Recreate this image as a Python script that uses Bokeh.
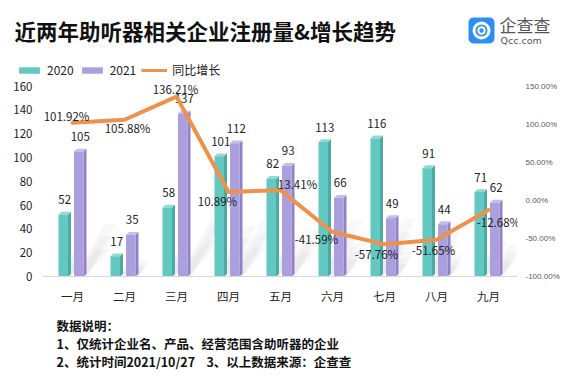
import numpy as np
from bokeh.plotting import figure
from bokeh.layouts import column
from bokeh.models import (Range1d, LinearAxis, FixedTicker, ColumnDataSource,
                          Legend, LegendItem, BoxAnnotation)
from bokeh.core.properties import value
from bokeh.embed import file_html
from bokeh.resources import INLINE

# ---------------- data ----------------
months = ["一月", "二月", "三月", "四月", "五月", "六月", "七月", "八月", "九月"]
count_2020 = [52, 17, 58, 101, 82, 113, 116, 91, 71]
count_2021 = [105, 35, 137, 112, 93, 66, 49, 44, 62]
growth_pct = [101.92, 105.88, 136.21, 10.89, 13.41, -41.59, -57.76, -51.65, -12.68]
left_ticks = [0, 20, 40, 60, 80, 100, 120, 140, 160]
right_ticks = [-100, -50, 0, 50, 100, 150]
right_tick_labels = ["-100.00%", "-50.00%", "0.00%", "50.00%", "100.00%", "150.00%"]
series_names = ["2020", "2021", "同比增长"]
title_text = "近两年助听器相关企业注册量&增长趋势"
notes = ["数据说明：",
         "1、仅统计企业名、产品、经营范围含助听器的企业",
         "2、统计时间2021/10/27\u00a0\u00a0\u00a0\u00a03、以上数据来源：企查查"]

# ---------------- styles ----------------
TEAL, TEAL_SIDE, TEAL_TOP = "#63c8c1", "#49aba4", "#8fdad4"
PURP, PURP_SIDE, PURP_TOP = "#ab9fdd", "#8f82c6", "#c6bdee"
ORANGE = "#f0914a"
CJK = "Noto Sans CJK SC"
W = 570
PX_X = 52.0          # pixels per category
PX_Y = 200.0 / 160   # pixels per count unit
PX_P = 200.0 / 250   # pixels per percent point
DEPTH = 3.0          # 3D depth in px
SHADOW_LAYERS = [(0.22, 0.8), (0.32, 0.65), (0.42, 0.55)]  # (height share, shear)
SHADOW_ALPHA = 0.028
pct_dx = [-6, 3, -1, -11, 17, -16, -8, -3, 10]
pct_dy = [-7, 8, -8, 9, -6, 7, 10, 10, 12]


def blank_fig(h, x0, x1, y_top, y_bot):
    f = figure(width=W, height=h, x_range=Range1d(x0, x1), y_range=Range1d(y_bot, y_top),
               output_backend="svg", toolbar_location=None,
               x_axis_type=None, y_axis_type=None, min_border=0)
    f.outline_line_color = None
    f.grid.visible = False
    return f


# ================= header (reference px 8..86) =================
hdr = blank_fig(78, 8, 578, 8, 86)
hdr.text(x=[22], y=[38], text=[title_text], text_font=value(CJK), text_font_size="21.5px",
         text_font_style="bold", text_color="#111111", text_align="left",
         text_baseline="middle")
hdr.add_layout(BoxAnnotation(left=476, right=502, top=25, bottom=51,
                             fill_color="#2d8ff2", fill_alpha=1, line_color=None,
                             border_radius=5, level="underlay"))
hdr.circle(x=[489], y=[38], radius=7.5, fill_color=None, line_color="white", line_width=3)
hdr.circle(x=[489], y=[38], radius=3.2, fill_color=None, line_color="white", line_width=2)
hdr.text(x=[507], y=[32], text=["企查查"], text_font=value(CJK), text_font_size="17px",
         text_color="#555555", text_align="left", text_baseline="middle")
hdr.text(x=[508], y=[48], text=["Qcc.com"], text_font=value("DejaVu Sans"),
         text_font_size="9.5px", text_color="#555555", text_align="left",
         text_baseline="middle")
# legend proxies drawn outside the visible range
lg20 = hdr.quad(left=[-100], right=[-90], top=[-100], bottom=[-90], fill_color=TEAL,
                line_color=None)
lg21 = hdr.quad(left=[-100], right=[-90], top=[-100], bottom=[-90], fill_color=PURP,
                line_color=None)
lgln = hdr.line(x=[-100, -90], y=[-100, -100], line_color=ORANGE, line_width=3)
legend = Legend(items=[LegendItem(label=series_names[0], renderers=[lg20]),
                       LegendItem(label=series_names[1], renderers=[lg21]),
                       LegendItem(label=series_names[2], renderers=[lgln])],
                location=(16, 0), orientation="horizontal",
                glyph_width=26, glyph_height=8, label_standoff=5, spacing=5,
                padding=0, margin=0, border_line_color=None, background_fill_alpha=0,
                label_text_font=CJK, label_text_font_size="12px",
                label_text_color="#222222", label_height=16)
hdr.add_layout(legend, "center")

# ================= main chart (reference px 86..314) =================
# frame: ref x 50..525, y 86..294
p = figure(width=W, height=228,
           x_range=Range1d((50 - 80) / PX_X, (525 - 80) / PX_X),
           y_range=Range1d(0, 208 / PX_Y),
           output_backend="svg", toolbar_location=None,
           min_border_left=42, min_border_right=53,
           min_border_top=0, min_border_bottom=20)
p.extra_y_ranges = {"pct": Range1d(-100, -100 + 208 / PX_P)}
p.outline_line_color = None
p.xgrid.visible = False
p.ygrid.visible = False

xs = np.arange(len(months), dtype=float)


def bar3d(vals, l_px, r_px, front, side, top):
    vals = np.asarray(vals, dtype=float)
    l = xs + l_px / PX_X
    r = xs + r_px / PX_X
    dx = DEPTH / PX_X
    dy = DEPTH / PX_Y
    for share, shear in SHADOW_LAYERS:
        sh = share * vals
        shx = shear * sh * PX_Y / PX_X
        shadow_src = ColumnDataSource(dict(
            xs=[[li, ri + dx, ri + dx + s, li + s] for li, ri, s in zip(l, r, shx)],
            ys=[[0, 0, h, h] for h in sh]))
        p.patches("xs", "ys", source=shadow_src, fill_color="#000000",
                  fill_alpha=SHADOW_ALPHA, line_color=None, level="underlay")
    side_src = ColumnDataSource(dict(
        xs=[[ri, ri + dx, ri + dx, ri] for ri in r],
        ys=[[0, dy, v + dy, v] for v in vals]))
    top_src = ColumnDataSource(dict(
        xs=[[li, ri, ri + dx, li + dx] for li, ri in zip(l, r)],
        ys=[[v, v, v + dy, v + dy] for v in vals]))
    p.patches("xs", "ys", source=side_src, fill_color=side, line_color=None)
    p.patches("xs", "ys", source=top_src, fill_color=top, line_color=None)
    fr = p.quad(left=l, right=r, bottom=0, top=vals, fill_color=front, line_color=None)
    lab = ColumnDataSource(dict(x=(l + r + dx) / 2, y=vals,
                                t=[str(int(v)) for v in vals]))
    p.text("x", "y", text="t", source=lab, text_align="center", text_baseline="middle",
           y_offset=-15, text_font_size="11.5px", text_color="#222222",
           text_font=value(CJK))
    return fr


bar3d(count_2020, -14, -4.5, TEAL, TEAL_SIDE, TEAL_TOP)
bar3d(count_2021, 1.5, 11, PURP, PURP_SIDE, PURP_TOP)

p.line(xs, growth_pct, y_range_name="pct", line_color=ORANGE, line_width=4,
       line_join="round", line_cap="round")
pct_src = ColumnDataSource(dict(x=xs, y=growth_pct,
                                t=[f"{g:.2f}%" for g in growth_pct],
                                dx=pct_dx, dy=pct_dy))
p.text("x", "y", text="t", source=pct_src, y_range_name="pct",
       x_offset="dx", y_offset="dy", text_align="center", text_baseline="middle",
       text_font_size="11.5px", text_color="#222222", text_font=value(CJK))

ax = p.xaxis[0]
ax.ticker = FixedTicker(ticks=list(xs))
ax.major_label_overrides = {int(i): m for i, m in enumerate(months)}
ax.major_tick_line_color = None
ax.minor_tick_line_color = None
ax.axis_line_color = "#d9d9d9"
ax.major_label_text_font = CJK
ax.major_label_text_font_size = "11.5px"
ax.major_label_text_color = "#222222"
ax.major_label_standoff = 5

ay = p.yaxis[0]
ay.ticker = FixedTicker(ticks=left_ticks)
ay.major_tick_line_color = None
ay.minor_tick_line_color = None
ay.axis_line_color = None
ay.major_label_text_font = CJK
ay.major_label_text_font_size = "11.5px"
ay.major_label_text_color = "#222222"
ay.major_label_standoff = 4

ry = LinearAxis(y_range_name="pct", ticker=FixedTicker(ticks=right_ticks),
                major_label_overrides={t: s for t, s in zip(right_ticks, right_tick_labels)},
                major_tick_line_color=None, minor_tick_line_color=None,
                axis_line_color=None, major_label_text_font="Liberation Sans",
                major_label_text_font_size="8px", major_label_text_color="#595959",
                major_label_standoff=2)
p.add_layout(ry, "right")

# ================= notes (reference px 314..380) =================
nt = blank_fig(66, 8, 578, 314, 380)
nt.text(x=[64, 64, 64], y=[333, 351, 369], text=notes, text_font=value(CJK),
        text_font_size="12.5px", text_font_style="bold", text_color="#111111",
        text_align="left", text_baseline="middle")

# wrap the text panels in their own columns so their frames span the full width
layout = column(column(hdr), p, column(nt), spacing=0)
open("out.html", "w").write(file_html(layout, INLINE))
